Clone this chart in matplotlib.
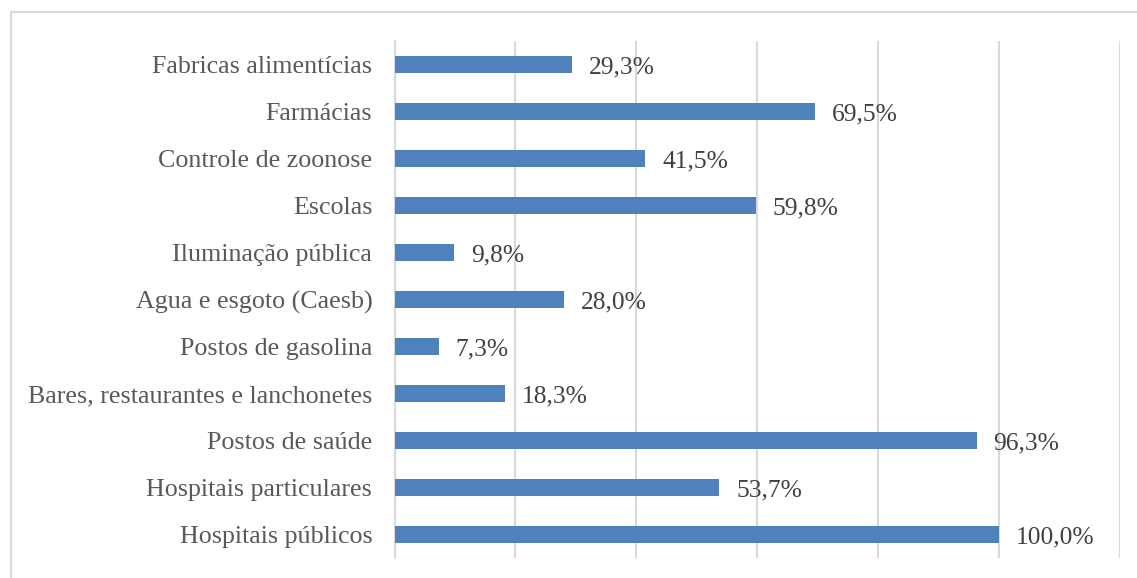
import matplotlib.pyplot as plt
from matplotlib.patches import Rectangle

# categories listed bottom to top, as drawn on the y axis
categorias = [
    "Hospitais públicos",
    "Hospitais particulares",
    "Postos de saúde",
    "Bares, restaurantes e lanchonetes",
    "Postos de gasolina",
    "Agua e esgoto (Caesb)",
    "Iluminação pública",
    "Escolas",
    "Controle de zoonose",
    "Farmácias",
    "Fabricas alimentícias",
]
percentuais = [100.0, 53.7, 96.3, 18.3, 7.3, 28.0, 9.8, 59.8, 41.5, 69.5, 29.3]

plt.rcParams['font.family'] = ['Liberation Serif', 'DejaVu Serif']

fig = plt.figure(figsize=(11.37, 5.78), dpi=100)
ax = fig.add_axes([0.347, 0.0346, 0.638, 0.8945])

y = range(len(categorias))
ax.barh(y, percentuais, height=0.36, color='#4F81BD', zorder=3)

# value labels at the end of each bar
for yi, v in zip(y, percentuais):
    txt = f"{v:.1f}%".replace('.', ',')
    ax.text(v + 2.8, yi - 0.06, txt, va='center', ha='left',
            fontsize=18.4, color='#404040')

ax.set_xlim(0, 120)
ax.set_ylim(-0.5, len(categorias) - 0.5)
ax.set_xticks(range(0, 121, 20))
ax.set_xticklabels([])
ax.set_yticks(list(y))
ax.set_yticklabels(categorias, fontsize=18.7, color='#595959')
ax.tick_params(axis='both', length=0)
ax.tick_params(axis='y', pad=16)
ax.grid(axis='x', color='#D9D9D9', linewidth=1.5, zorder=0)
for s in ['top', 'right', 'bottom']:
    ax.spines[s].set_visible(False)
ax.spines['left'].set_color('#D9D9D9')
ax.spines['left'].set_linewidth(1.5)

# light frame around the chart area
fig.patches.append(Rectangle((10.5 / 1137, -0.1), 1.2, (578 - 11.5) / 578 + 0.1,
                             transform=fig.transFigure, fill=False,
                             edgecolor='#D9D9D9', linewidth=1.5))

fig.savefig('out.png', dpi=100)
